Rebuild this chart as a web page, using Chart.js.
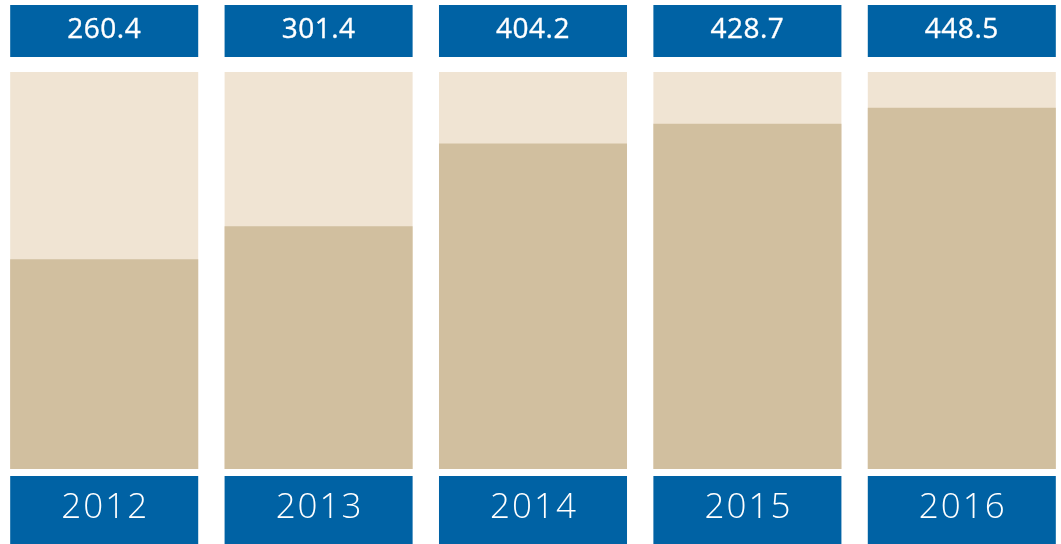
<!DOCTYPE html>
<html>
<head>
<meta charset="utf-8">
<script src="https://cdn.jsdelivr.net/npm/chart.js@4/dist/chart.umd.min.js"></script>
<style>
  html, body { margin: 0; padding: 0; background: #ffffff; overflow: hidden; }
  #wrap { position: absolute; left: -3px; top: 0; width: 1072px; height: 544px; }
</style>
</head>
<body>
<div id="wrap"><canvas id="c"></canvas></div>
<script>
const categories = ['2012', '2013', '2014', '2015', '2016'];
const values = [260.4, 301.4, 404.2, 428.7, 448.5];
const valueLabels = ['260.4', '301.4', '404.2', '428.7', '448.5'];
const trackMax = [493, 493, 493, 493, 493];

const BLUE = '#0062a4';
const LIGHT = '#f0e4d3';
const DARK = '#d1bf9f';

const boxesPlugin = {
  id: 'boxes',
  afterDatasetsDraw(chart) {
    const ctx = chart.ctx;
    const meta = chart.getDatasetMeta(0);
    meta.data.forEach((bar, i) => {
      const left = bar.x - bar.width / 2;
      const w = bar.width;
      ctx.save();
      ctx.fillStyle = BLUE;
      ctx.fillRect(left, 5, w, 52);
      ctx.fillRect(left, 476, w, 68);
      ctx.fillStyle = '#ffffff';
      ctx.strokeStyle = '#ffffff';
      ctx.textAlign = 'center';
      ctx.textBaseline = 'middle';
      ctx.font = '400 28px "Open Sans"';
      ctx.letterSpacing = '0.5px';
      ctx.lineWidth = 0.35;
      ctx.fillText(valueLabels[i], bar.x, 30);
      ctx.strokeText(valueLabels[i], bar.x, 30);
      ctx.font = '300 35px "Open Sans"';
      ctx.letterSpacing = '2px';
      ctx.fillText(categories[i], bar.x + 1, 508);
      ctx.restore();
    });
  }
};

new Chart(document.getElementById('c'), {
  type: 'bar',
  data: {
    labels: categories,
    datasets: [
      { label: 'value', data: values, backgroundColor: DARK, order: 1, grouped: false },
      { label: 'track', data: trackMax, backgroundColor: LIGHT, order: 2, grouped: false }
    ]
  },
  options: {
    responsive: true,
    maintainAspectRatio: false,
    animation: false,
    layout: { padding: { top: 72, bottom: 75, left: 0, right: 0 } },
    datasets: { bar: { categoryPercentage: 1, barPercentage: 0.877, borderWidth: 0 } },
    scales: {
      x: { display: false },
      y: { display: false, min: 0, max: 493 }
    },
    plugins: { legend: { display: false }, tooltip: { enabled: false } }
  },
  plugins: [boxesPlugin]
});
</script>
</body>
</html>
